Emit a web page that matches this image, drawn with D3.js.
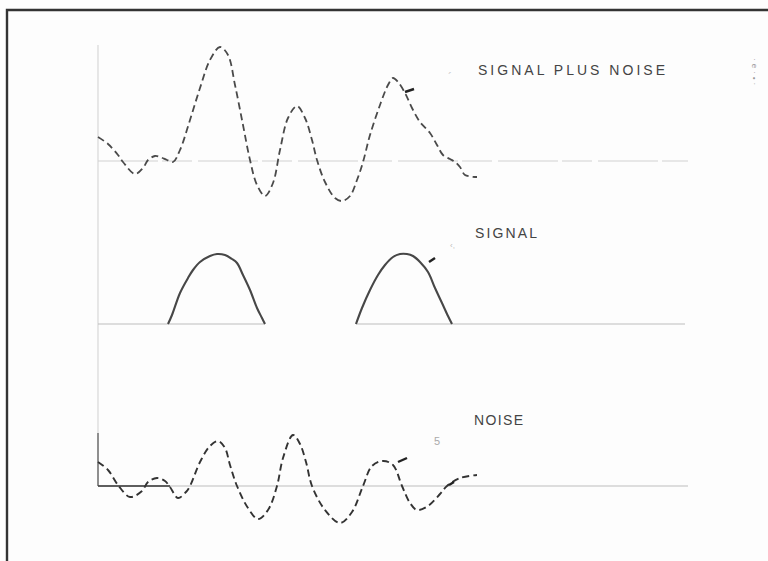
<!DOCTYPE html>
<html lang="en">
<head>
    <meta charset="UTF-8">
    <title>Signal plus noise</title>
    <script src="https://d3js.org/d3.v7.min.js"></script>
    <style>
        body { margin: 0; background: #fdfdfd; }
        text { font-family: "Liberation Sans", Arial, sans-serif; }
    </style>
</head>
<body>
    <div id="my_dataviz"></div>

    <script>
        var width = 768, height = 561;

        // time axis units, baseline amplitude = 0
        var signalPlusNoise = [
            [0,24],[10,17],[20,6],[25,-1],[37,-13],[45,-7],[50,1],[57,5],[62,4],[69,1],[75,-1],
            [82,11],[92,41],[102,73],[112,101],[122,114],[130,106],[137,76],[145,36],[152,1],
            [159,-24],[167,-35],[175,-22],[182,11],[190,43],[199,55],[207,43],[214,21],[219,1],
            [227,-21],[237,-37],[244,-40],[252,-35],[259,-19],[265,-1],[272,26],[282,56],[290,76],
            [295,83],[300,79],[307,68],[314,53],[322,39],[332,28],[339,16],[345,6],[352,2],[357,-1],
            [362,-6],[367,-14],[379,-16]
        ];
        var signalHump1 = [
            [70,0],[74,9],[82,31],[90,46],[95,54],[102,62],[112,68],[119,70],[127,69],[134,65],
            [139,61],[145,49],[152,34],[159,16],[164,6],[167,0]
        ];
        var signalHump2 = [
            [258,0],[264,16],[272,34],[280,49],[287,59],[295,67],[302,70],[309,70],[315,68],
            [322,62],[330,52],[337,36],[344,21],[350,8],[354,0]
        ];
        var noise = [
            [0,24],[10,16],[20,1],[32,-11],[44,-5],[50,4],[59,8],[67,5],[72,-1],[80,-12],[88,-6],
            [92,0],[102,24],[112,40],[120,45],[127,38],[132,21],[139,0],[150,-22],[160,-33],
            [170,-24],[179,0],[185,28],[195,51],[202,42],[208,24],[214,0],[227,-24],[242,-37],
            [254,-26],[265,0],[274,20],[285,25],[295,21],[304,0],[312,-17],[319,-24],[330,-20],
            [342,-8],[349,0],[362,8],[379,11]
        ];
        var labels = ["SIGNAL PLUS NOISE", "SIGNAL", "NOISE"];

        var svg = d3.select("#my_dataviz")
            .append("svg")
            .attr("width", width)
            .attr("height", height);

        svg.append("rect").attr("width", width).attr("height", height).attr("fill", "#fdfdfd");

        // frame: top and left edges only
        svg.append("path")
            .attr("d", "M7,561 V10 H768")
            .attr("fill", "none")
            .attr("stroke", "#333")
            .attr("stroke-width", 2.4);

        var x = d3.scaleLinear().domain([0, 590]).range([98, 688]);

        // one y scale per panel, 1 unit = 1 px
        function panelY(base) {
            return d3.scaleLinear().domain([0, 100]).range([base, base - 100]);
        }
        var y1 = panelY(161), y2 = panelY(324), y3 = panelY(486);

        // vertical axis
        svg.append("line")
            .attr("x1", x(0)).attr("x2", x(0))
            .attr("y1", y1(116)).attr("y2", y3(0))
            .attr("stroke", "#d8d8d8").attr("stroke-width", 1.2);
        svg.append("line")
            .attr("x1", x(0)).attr("x2", x(0))
            .attr("y1", y3(53)).attr("y2", y3(0))
            .attr("stroke", "#555").attr("stroke-width", 1.2);

        // baselines
        svg.append("line").attr("x1", x(0)).attr("x2", x(590))
            .attr("y1", y1(0)).attr("y2", y1(0))
            .attr("stroke", "#d2d2d2").attr("stroke-width", 1.2)
            .attr("stroke-dasharray", "60,4,30,6");
        svg.append("line").attr("x1", x(0)).attr("x2", x(167))
            .attr("y1", y2(0)).attr("y2", y2(0))
            .attr("stroke", "#bdbdbd").attr("stroke-width", 1.2);
        svg.append("line").attr("x1", x(258)).attr("x2", x(587))
            .attr("y1", y2(0)).attr("y2", y2(0))
            .attr("stroke", "#bdbdbd").attr("stroke-width", 1.2);
        svg.append("line").attr("x1", x(0)).attr("x2", x(590))
            .attr("y1", y3(0)).attr("y2", y3(0))
            .attr("stroke", "#bdbdbd").attr("stroke-width", 1.2);
        svg.append("line").attr("x1", x(0)).attr("x2", x(72))
            .attr("y1", y3(0)).attr("y2", y3(0))
            .attr("stroke", "#333").attr("stroke-width", 1.4);

        function curve(yScale) {
            return d3.line()
                .x(function(d) { return x(d[0]); })
                .y(function(d) { return yScale(d[1]); })
                .curve(d3.curveCatmullRom);
        }

        svg.append("path").datum(signalPlusNoise)
            .attr("d", curve(y1))
            .attr("fill", "none").attr("stroke", "#4a4a4a")
            .attr("stroke-width", 1.8).attr("stroke-dasharray", "7,4");

        [signalHump1, signalHump2].forEach(function(h) {
            svg.append("path").datum(h)
                .attr("d", curve(y2))
                .attr("fill", "none").attr("stroke", "#474747")
                .attr("stroke-width", 2.1);
        });

        svg.append("path").datum(noise)
            .attr("d", curve(y3))
            .attr("fill", "none").attr("stroke", "#333")
            .attr("stroke-width", 1.9).attr("stroke-dasharray", "7,4");

        // small pointer marks on the curves
        var pointers = [
            {y: y1, p: [[307,69],[316,72]]},
            {y: y2, p: [[331,62],[337,66]]},
            {y: y3, p: [[300,24],[309,28]]},
            {y: y3, p: [[351,1],[356,4]]}
        ];
        pointers.forEach(function(m) {
            svg.append("path").datum(m.p)
                .attr("d", d3.line().x(function(d) { return x(d[0]); }).y(function(d) { return m.y(d[1]); }))
                .attr("stroke", "#222").attr("stroke-width", 2.4);
        });

        // labels
        var labelPos = [[478, 75, 187], [475, 238, 62], [474, 425, 49]];
        svg.selectAll("text.label")
            .data(labels)
            .enter().append("text")
            .attr("class", "label")
            .attr("x", function(d, i) { return labelPos[i][0]; })
            .attr("y", function(d, i) { return labelPos[i][1]; })
            .attr("textLength", function(d, i) { return labelPos[i][2]; })
            .attr("lengthAdjust", "spacing")
            .attr("font-size", 14)
            .attr("fill", "#444")
            .text(function(d) { return d; });

        // stray marks from the scan
        svg.append("text").attr("x", 448).attr("y", 82).attr("font-size", 12).attr("fill", "#ccc").text("\u00b4");
        svg.append("text").attr("x", 450).attr("y", 248).attr("font-size", 8).attr("fill", "#bbb").text("\u2039,");
        svg.append("text").attr("x", 434).attr("y", 445).attr("font-size", 11).attr("fill", "#aaa").text("5");
        svg.append("text")
            .attr("transform", "translate(752,58) rotate(90)")
            .attr("font-size", 8).attr("fill", "#999")
            .attr("letter-spacing", 3)
            .text("\u00b7e\u00b7\u2022\u00b7");
    </script>
</body>
</html>
